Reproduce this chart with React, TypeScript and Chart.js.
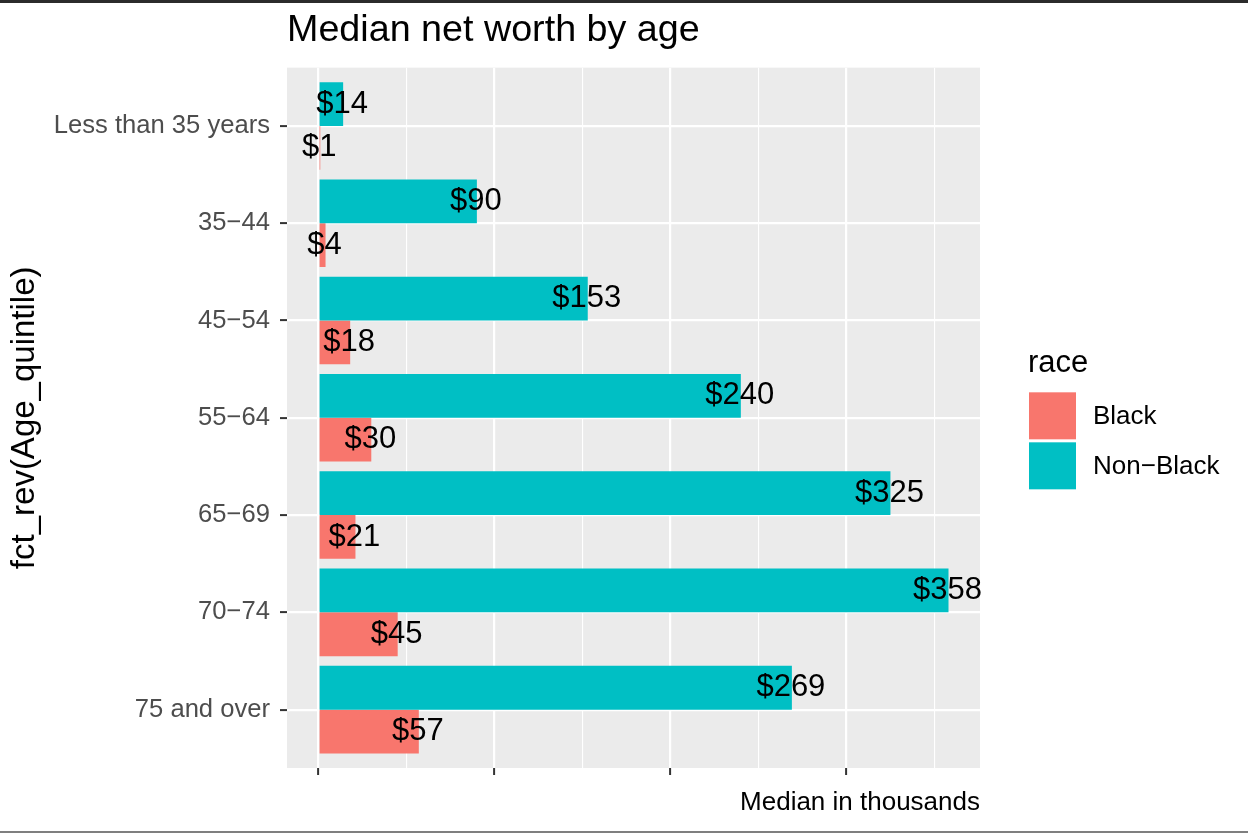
import React, { useEffect, useRef } from 'react';
import { Chart, registerables } from 'chart.js';

Chart.register(...registerables);

const categories = ['Less than 35 years', '35−44', '45−54', '55−64', '65−69', '70−74', '75 and over'];
const nonBlackValues = [14, 90, 153, 240, 325, 358, 269];
const blackValues = [1, 4, 18, 30, 21, 45, 57];
const seriesNames = ['Black', 'Non−Black'];
const seriesColors = ['#F8766D', '#00BFC4'];
const xTickValues = [0, 50, 100, 150, 200, 250, 300, 350];
const xMajorStep = 100;

const FONT = '"Liberation Sans", Arial, Helvetica, sans-serif';

const panelBackground = {
  id: 'panelBackground',
  beforeDraw(chart: any) {
    const { ctx, chartArea } = chart;
    ctx.save();
    ctx.fillStyle = '#EBEBEB';
    ctx.fillRect(chartArea.left, chartArea.top, chartArea.right - chartArea.left, chartArea.bottom - chartArea.top);
    ctx.restore();
  },
};

const valueLabels = {
  id: 'valueLabels',
  afterDatasetsDraw(chart: any) {
    const { ctx } = chart;
    ctx.save();
    ctx.font = `31px ${FONT}`;
    ctx.fillStyle = '#000000';
    ctx.textAlign = 'center';
    ctx.textBaseline = 'middle';
    chart.data.datasets.forEach((ds: any, i: number) => {
      const meta = chart.getDatasetMeta(i);
      meta.data.forEach((el: any, j: number) => {
        const v = ds.data[j].x;
        ctx.fillText('$' + v, el.x - 1, el.y);
      });
    });
    ctx.restore();
  },
};

const sideLegend = {
  id: 'sideLegend',
  afterDraw(chart: any) {
    const { ctx, chartArea } = chart;
    const cy = (chartArea.top + chartArea.bottom) / 2;
    const x0 = chartArea.right + 49;
    ctx.save();
    ctx.fillStyle = '#000000';
    ctx.textAlign = 'left';
    ctx.textBaseline = 'alphabetic';
    ctx.font = `31px ${FONT}`;
    ctx.fillText('race', x0 - 1, cy - 45.5);
    const box = 47;
    seriesNames.forEach((name, i) => {
      const top = cy - 25.5 + i * (box + 3);
      ctx.fillStyle = seriesColors[i];
      ctx.fillRect(x0, top, box, box);
      ctx.fillStyle = '#000000';
      ctx.font = `26px ${FONT}`;
      ctx.textBaseline = 'middle';
      ctx.fillText(name, x0 + 64, top + box / 2 + 1);
    });
    ctx.restore();
  },
};

export default function App() {
  const canvasRef = useRef<HTMLCanvasElement | null>(null);

  useEffect(() => {
    document.body.style.margin = '0';
    const canvas = canvasRef.current;
    if (!canvas) return;
    const allValues = [...nonBlackValues, ...blackValues];
    const dataMax = Math.max(...allValues);
    const expand = dataMax * 0.05;

    const chart = new Chart(canvas, {
      type: 'bar',
      data: {
        datasets: [
          {
            label: seriesNames[1],
            data: nonBlackValues.map((v, i) => ({ x: v, y: i })),
            backgroundColor: seriesColors[1],
            borderWidth: 0,
          },
          {
            label: seriesNames[0],
            data: blackValues.map((v, i) => ({ x: v, y: i })),
            backgroundColor: seriesColors[0],
            borderWidth: 0,
          },
        ],
      },
      plugins: [panelBackground, valueLabels, sideLegend],
      options: {
        indexAxis: 'y',
        animation: false,
        responsive: false,
        maintainAspectRatio: false,
        devicePixelRatio: 1,
        layout: { padding: { left: 0, right: 268, top: 0, bottom: 4 } },
        font: { family: FONT },
        datasets: {
          bar: { categoryPercentage: 0.9, barPercentage: 1.0 },
        },
        plugins: {
          legend: { display: false },
          tooltip: { enabled: false },
          title: {
            display: true,
            text: 'Median net worth by age',
            align: 'start',
            fullSize: false,
            color: '#000000',
            font: { size: 37.7, family: FONT, weight: 'normal' },
            padding: { top: 8.4, bottom: 14 },
          },
        },
        scales: {
          x: {
            type: 'linear',
            min: -expand,
            max: dataMax + expand,
            offset: false,
            afterBuildTicks: (scale: any) => {
              scale.ticks = xTickValues.map((v) => ({ value: v }));
            },
            ticks: { display: false },
            border: { display: false },
            grid: {
              offset: false,
              color: '#FFFFFF',
              lineWidth: (ctx: any) => (ctx.tick && ctx.tick.value % xMajorStep === 0 ? 2.2 : 1.1),
              tickColor: (ctx: any) => (ctx.tick && ctx.tick.value % xMajorStep === 0 ? '#333333' : 'rgba(0,0,0,0)'),
              tickWidth: 2,
              tickLength: 7,
              drawTicks: true,
            },
            title: {
              display: true,
              text: 'Median in thousands',
              align: 'end',
              color: '#000000',
              font: { size: 26, family: FONT },
              padding: { top: 12.4, bottom: 11.4 },
            },
          },
          y: {
            type: 'linear',
            reverse: true,
            offset: false,
            min: -0.6,
            max: categories.length - 1 + 0.6,
            afterBuildTicks: (scale: any) => {
              scale.ticks = categories.map((_, i) => ({ value: i }));
            },
            afterFit: (scale: any) => {
              scale.width = 287;
            },
            ticks: {
              autoSkip: false,
              color: '#4D4D4D',
              font: { size: 25.6, family: FONT },
              padding: 10,
              callback: (value: any) => categories[value as number] ?? '',
            },
            border: { display: false },
            grid: {
              offset: false,
              color: '#FFFFFF',
              lineWidth: 2.2,
              tickColor: '#333333',
              tickWidth: 2,
              tickLength: 7,
            },
            title: {
              display: true,
              text: 'fct_rev(Age_quintile)',
              color: '#000000',
              font: { size: 33, family: FONT },
              padding: { top: 5.2, bottom: 0 },
            },
          },
        },
      },
    } as any);

    return () => {
      chart.destroy();
    };
  }, []);

  return (
    <div style={{ position: 'relative', width: 1248, height: 834, background: '#FFFFFF', overflow: 'hidden' }}>
      <canvas ref={canvasRef} width={1248} height={834} style={{ position: 'absolute', left: 0, top: 0, width: 1248, height: 834 }} />
      <div style={{ position: 'absolute', left: 0, top: 0, width: 1248, height: 2.5, background: '#2B2B2B' }} />
      <div style={{ position: 'absolute', left: 0, top: 831, width: 1248, height: 2, background: '#7F7F7F' }} />
    </div>
  );
}
